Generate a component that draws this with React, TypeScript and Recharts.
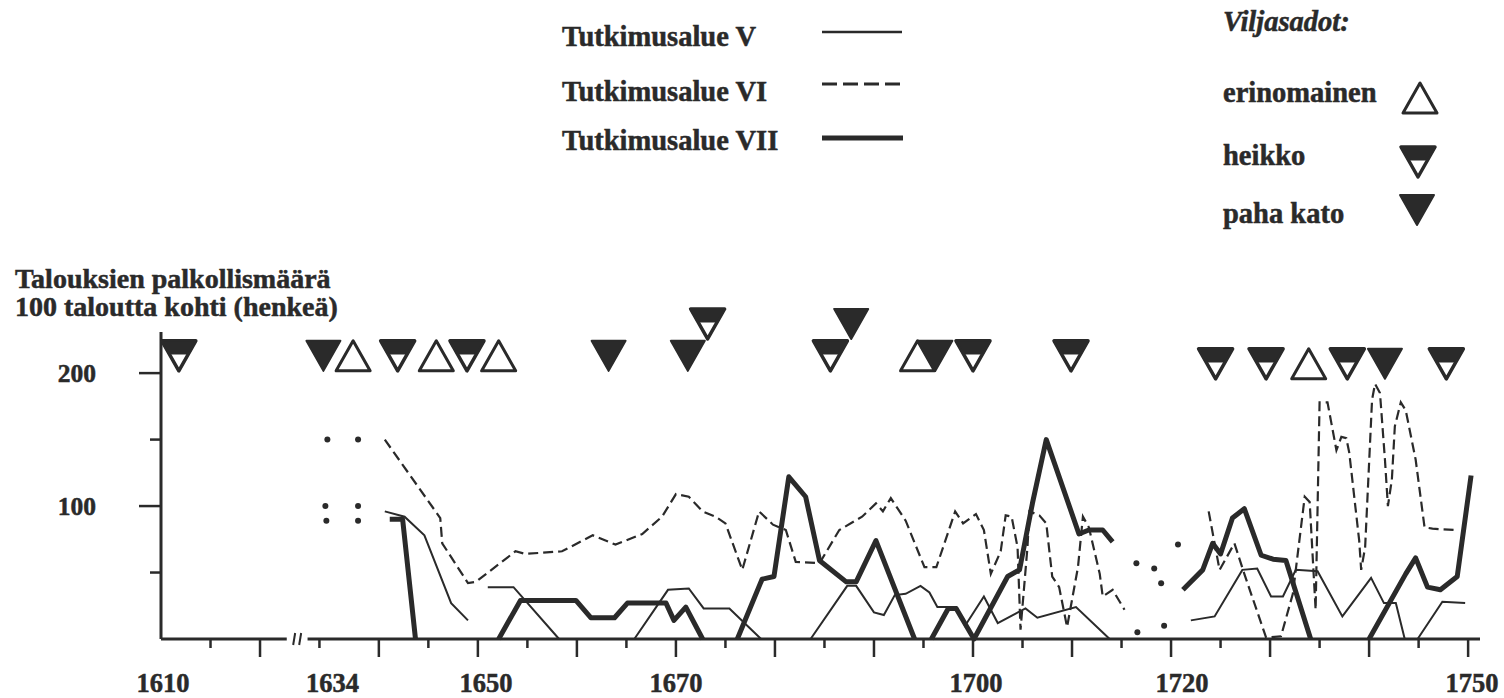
import { ComposedChart, Line, Scatter, XAxis, YAxis, ReferenceLine, ReferenceDot } from 'recharts'

const INK = '#2a2a2a'
const SERIF = '"Liberation Serif", "Times New Roman", serif'

// years 1625-1633 are cut out of the time axis (the "//" break)
const BREAK_YEAR = 1625
const GAP_YEARS = 8
const axisPos = (year: number) => (year < BREAK_YEAR ? year : year - GAP_YEARS)
const yearOf = (pos: number) => (pos < BREAK_YEAR ? pos : pos + GAP_YEARS)

// Tutkimusalue V (thin solid), [year, servants per 100 households]
const SERIES_V: [number, number][][] = [
  [[1640.6, 96], [1642.6, 92], [1644.6, 78], [1647.3, 27], [1649.0, 14]],
  [[1651.0, 39], [1653.6, 39], [1658.2, 0]],
  [[1665.8, 0], [1669.2, 37], [1671.3, 38], [1672.8, 23], [1675.4, 23], [1678.6, 0]],
  [[1683.6, 0], [1687.3, 40], [1688.2, 40], [1690.0, 20], [1691.0, 18], [1692.1, 33], [1693.2, 34],
    [1694.7, 40], [1695.6, 35], [1696.4, 24], [1698.3, 24], [1699.2, 10], [1701.1, 32], [1702.5, 12],
    [1705.3, 23], [1706.5, 16], [1710.4, 24], [1713.8, 0]],
  [[1722.0, 14], [1724.4, 17], [1727.2, 52], [1728.7, 53], [1730.1, 32], [1731.3, 32], [1732.6, 52],
    [1734.8, 51], [1737.3, 17], [1740.2, 46], [1741.5, 27], [1742.7, 27], [1743.6, 0]],
  [[1744.9, 0], [1747.4, 28], [1749.7, 27]],
]

// Tutkimusalue VI (dashed)
const SERIES_VI: [number, number][][] = [
  [[1640.6, 150], [1646.2, 91], [1646.4, 72], [1649.0, 42], [1649.8, 43], [1653.8, 66], [1654.8, 64],
    [1658.5, 66], [1661.6, 78], [1663.9, 71], [1666.6, 79], [1668.6, 92], [1670.0, 109], [1671.3, 107],
    [1672.7, 96], [1674.0, 92], [1675.0, 87], [1676.7, 52], [1678.4, 96], [1679.8, 86], [1681.1, 82],
    [1682.1, 58], [1684.5, 57], [1686.5, 82], [1688.8, 92], [1690.2, 102], [1690.9, 96], [1691.7, 106],
    [1693.2, 89], [1695.1, 54], [1696.3, 54], [1698.2, 96], [1699.0, 87], [1700.3, 94], [1701.1, 82],
    [1701.8, 49], [1702.8, 66], [1703.3, 93], [1703.9, 92], [1704.5, 69], [1704.8, 7], [1705.5, 69],
    [1705.7, 96], [1706.7, 93], [1707.4, 87], [1708.0, 47], [1708.7, 39], [1709.5, 9], [1710.6, 54],
    [1711.1, 92], [1711.7, 84], [1712.8, 49], [1713.1, 32], [1714.1, 37], [1715.3, 22]],
  [[1723.8, 96], [1724.9, 52], [1726.4, 72], [1727.4, 49], [1729.6, 1], [1731.1, 2], [1732.3, 34],
    [1733.5, 107], [1734.0, 103], [1734.6, 22], [1735.0, 178], [1735.8, 178], [1736.7, 142], [1737.2, 152],
    [1737.7, 151], [1738.0, 140], [1739.0, 74], [1739.2, 52], [1739.6, 69], [1740.3, 180], [1740.6, 192],
    [1741.1, 185], [1741.6, 135], [1741.9, 100], [1742.3, 120], [1742.6, 160], [1743.2, 178], [1743.7, 172],
    [1744.7, 135], [1745.6, 84], [1746.4, 83], [1748.6, 82]],
]

// Tutkimusalue VII (thick solid)
const SERIES_VII: [number, number][][] = [
  [[1641.1, 90], [1642.4, 90], [1643.7, 0]],
  [[1652.1, 0], [1654.3, 29], [1659.9, 29], [1661.4, 16], [1663.8, 16], [1665.1, 27], [1669.0, 27],
    [1669.8, 14], [1671.0, 24], [1672.7, 0]],
  [[1676.2, 0], [1678.7, 45], [1679.9, 47], [1681.4, 122], [1683.1, 107], [1684.5, 59], [1687.2, 43],
    [1688.2, 43], [1690.2, 74], [1694.1, 0]],
  [[1695.8, 0], [1697.5, 23], [1698.3, 23], [1700.1, 0], [1703.5, 47], [1704.7, 52], [1706.0, 102],
    [1707.4, 150], [1710.7, 79], [1711.7, 82], [1713.1, 82], [1714.1, 73]],
  [[1721.2, 37], [1723.2, 52], [1724.2, 72], [1725.0, 64], [1726.2, 91], [1727.4, 98], [1729.1, 63],
    [1730.3, 60], [1731.6, 59], [1734.1, 0]],
  [[1740.0, 0], [1743.7, 49], [1744.7, 61], [1745.9, 39], [1747.2, 37], [1748.9, 47], [1750.3, 123]],
]

// uncertain single values drawn as dots
const LOOSE_DOTS: [number, number][] = [
  [1634.8, 150], [1637.9, 150], [1634.6, 100], [1637.9, 100], [1634.7, 89], [1637.9, 89],
  [1716.5, 57], [1718.3, 53], [1719.0, 42], [1720.7, 71], [1716.6, 5], [1719.3, 10],
]

// Viljasadot: [year, row] (row 1 = stacked above, row 2 = slightly lower)
const HARVEST_EXCELLENT: [number, number][] = [[1637.4, 0], [1645.8, 0], [1652.1, 0], [1694.4, 0], [1733.9, 2]]
const HARVEST_POOR: [number, number][] = [
  [1611.8, 0], [1641.9, 0], [1648.9, 0], [1673.2, 1], [1685.6, 0], [1700.0, 0],
  [1709.9, 0], [1724.5, 2], [1729.6, 2], [1737.8, 2], [1747.8, 2],
]
const HARVEST_FAMINE: [number, number][] = [[1634.4, 0], [1663.2, 0], [1671.2, 0], [1687.7, 1], [1696.2, 0], [1741.6, 2]]
const MARKER_LEVELS = [213, 237, 207]

const YEAR_TICKS = [1610, 1615, 1620, 1634, 1640, 1645, 1650, 1655, 1660, 1665, 1670, 1675, 1680, 1685,
  1690, 1695, 1700, 1705, 1710, 1715, 1720, 1725, 1730, 1735, 1740, 1745, 1750]
const YEAR_LABELS = [1610, 1634, 1650, 1670, 1700, 1720, 1750]
const VALUE_TICKS = [50, 100, 150, 200]
const VALUE_LABELS = [100, 200]

const LABEL_NUDGE: Record<number, number> = { 1610: 2, 1634: 13, 1650: 8, 1700: 3, 1720: 11, 1750: 4 }

const toPoints = (seg: [number, number][]) => seg.map(([year, v]) => ({ t: axisPos(year), v }))
const toMarks = (list: [number, number][]) => list.map(([year, row]) => ({ t: axisPos(year), v: MARKER_LEVELS[row] }))

type Kind = 'excellent' | 'poor' | 'famine'

function HarvestMark({ cx, cy, kind }: { cx: number; cy: number; kind: Kind }) {
  const w = 34, h = 30
  const top = cy - h / 2, bot = cy + h / 2
  if (kind === 'excellent') {
    return <polygon points={`${cx - w / 2},${bot} ${cx + w / 2},${bot} ${cx},${top}`}
      fill="#fff" stroke={INK} strokeWidth={3} strokeLinejoin="round" />
  }
  if (kind === 'famine') {
    return <polygon points={`${cx - w / 2},${top} ${cx + w / 2},${top} ${cx},${bot}`}
      fill={INK} stroke={INK} strokeWidth={2} strokeLinejoin="round" />
  }
  const band = top + h * 0.42
  return (
    <g>
      <polygon points={`${cx - w / 2},${top} ${cx + w / 2},${top} ${cx},${bot}`}
        fill="#fff" stroke={INK} strokeWidth={3.5} strokeLinejoin="round" />
      <polygon points={`${cx - w / 2},${top} ${cx + w / 2},${top} ${cx + w * 0.29},${band} ${cx - w * 0.29},${band}`}
        fill={INK} stroke={INK} strokeWidth={2} strokeLinejoin="round" />
    </g>
  )
}

const boldText = { fontFamily: SERIF, fontWeight: 700, fill: INK, stroke: INK, strokeWidth: 0.5 }

function YearTick({ x, y, payload }: any) {
  const year = Math.round(yearOf(payload.value))
  const long = year % 10 === 0
  return (
    <g>
      {year !== 1610 && <line x1={x} y1={y} x2={x} y2={y + (long ? 18 : 9)} stroke={INK} strokeWidth={2.5} />}
      {YEAR_LABELS.includes(year) && (
        <text x={x + (LABEL_NUDGE[year] ?? 0)} y={y + 53} textAnchor="middle"
          style={{ ...boldText, fontSize: 26.5 }}>{year}</text>
      )}
    </g>
  )
}

function ValueTick({ x, y, payload }: any) {
  const v = payload.value
  const long = VALUE_LABELS.includes(v)
  return (
    <g>
      <line x1={x - (long ? 22 : 11)} y1={y} x2={x} y2={y} stroke={INK} strokeWidth={2.5} />
      {long && (
        <text x={x - 65} y={y + 9} textAnchor="end" style={{ ...boldText, fontSize: 25.5 }}>{v}</text>
      )}
    </g>
  )
}

function BreakMark({ cx, cy }: any) {
  return (
    <g stroke={INK} strokeWidth={2}>
      <line x1={cx - 4} y1={cy + 6} x2={cx - 2} y2={cy - 6} />
      <line x1={cx + 2} y1={cy + 6} x2={cx + 4} y2={cy - 6} />
    </g>
  )
}

const legendText = { ...boldText, fontSize: 28.5 }

function Legends() {
  return (
    <svg width={1504} height={698} style={{ position: 'absolute', left: 0, top: 0, pointerEvents: 'none' }}>
      <text x={562} y={46} style={legendText}>Tutkimusalue V</text>
      <text x={562} y={101} style={legendText}>Tutkimusalue VI</text>
      <text x={562} y={150} style={legendText}>Tutkimusalue VII</text>
      <line x1={822} y1={32} x2={902} y2={32} stroke={INK} strokeWidth={2.5} />
      <line x1={822} y1={84} x2={900} y2={84} stroke={INK} strokeWidth={3} strokeDasharray="15 6" />
      <line x1={822} y1={138} x2={903} y2={138} stroke={INK} strokeWidth={5} />

      <text x={1223} y={31} style={{ ...legendText, fontStyle: 'italic' }}>Viljasadot:</text>
      <text x={1223} y={102} style={legendText}>erinomainen</text>
      <text x={1223} y={165} style={legendText}>heikko</text>
      <text x={1223} y={223} style={legendText}>paha kato</text>
      <HarvestMark cx={1420} cy={98} kind="excellent" />
      <HarvestMark cx={1418} cy={162} kind="poor" />
      <HarvestMark cx={1417} cy={210} kind="famine" />

      <text x={15} y={288} style={{ ...boldText, fontSize: 28 }}>Talouksien palkollismäärä</text>
      <text x={15} y={316} style={{ ...boldText, fontSize: 28 }}>100 taloutta kohti (henkeä)</text>
    </svg>
  )
}

export default function App() {
  return (
    <div style={{ position: 'absolute', left: 0, top: 0, width: 1504, height: 698, background: '#fff' }}>
      <ComposedChart width={1504} height={698} margin={{ top: 300, right: 24, bottom: 0, left: 0 }}>
        <XAxis dataKey="t" type="number" domain={[1610, 1743.2]} ticks={YEAR_TICKS.map(axisPos)}
          interval={0} height={59} axisLine={false} tickLine={false} tickSize={0} tickMargin={0}
          tick={<YearTick />} />
        <YAxis dataKey="v" type="number" domain={[0, 255]} ticks={VALUE_TICKS} interval={0} width={161}
          axisLine={false} tickLine={false} tickSize={0} tickMargin={0} tick={<ValueTick />} />

        <ReferenceLine segment={[{ x: 1610, y: 0 }, { x: 1610, y: 231 }]} stroke={INK} strokeWidth={3} />
        <ReferenceLine segment={[{ x: 1610, y: 0 }, { x: 1622.7, y: 0 }]} stroke={INK} strokeWidth={3} />
        <ReferenceLine segment={[{ x: 1624.8, y: 0 }, { x: 1743.2, y: 0 }]} stroke={INK} strokeWidth={3} />
        <ReferenceDot x={1623.75} y={0} r={0} shape={<BreakMark />} />

        {SERIES_V.map((seg, i) => (
          <Line key={`v${i}`} data={toPoints(seg)} dataKey="v" type="linear" stroke={INK} strokeWidth={2}
            dot={false} activeDot={false} isAnimationActive={false} />
        ))}
        {SERIES_VI.map((seg, i) => (
          <Line key={`vi${i}`} data={toPoints(seg)} dataKey="v" type="linear" stroke={INK} strokeWidth={2.2}
            strokeDasharray="10 5" dot={false} activeDot={false} isAnimationActive={false} />
        ))}
        {SERIES_VII.map((seg, i) => (
          <Line key={`vii${i}`} data={toPoints(seg)} dataKey="v" type="linear" stroke={INK} strokeWidth={5}
            strokeLinejoin="round" dot={false} activeDot={false} isAnimationActive={false} />
        ))}

        <Scatter data={toPoints(LOOSE_DOTS)} dataKey="v" isAnimationActive={false}
          shape={(p: any) => <circle cx={p.cx} cy={p.cy} r={3} fill={INK} />} />
        <Scatter data={toMarks(HARVEST_EXCELLENT)} dataKey="v" isAnimationActive={false}
          shape={(p: any) => <HarvestMark cx={p.cx} cy={p.cy} kind="excellent" />} />
        <Scatter data={toMarks(HARVEST_POOR)} dataKey="v" isAnimationActive={false}
          shape={(p: any) => <HarvestMark cx={p.cx} cy={p.cy} kind="poor" />} />
        <Scatter data={toMarks(HARVEST_FAMINE)} dataKey="v" isAnimationActive={false}
          shape={(p: any) => <HarvestMark cx={p.cx} cy={p.cy} kind="famine" />} />
      </ComposedChart>
      <Legends />
    </div>
  )
}
